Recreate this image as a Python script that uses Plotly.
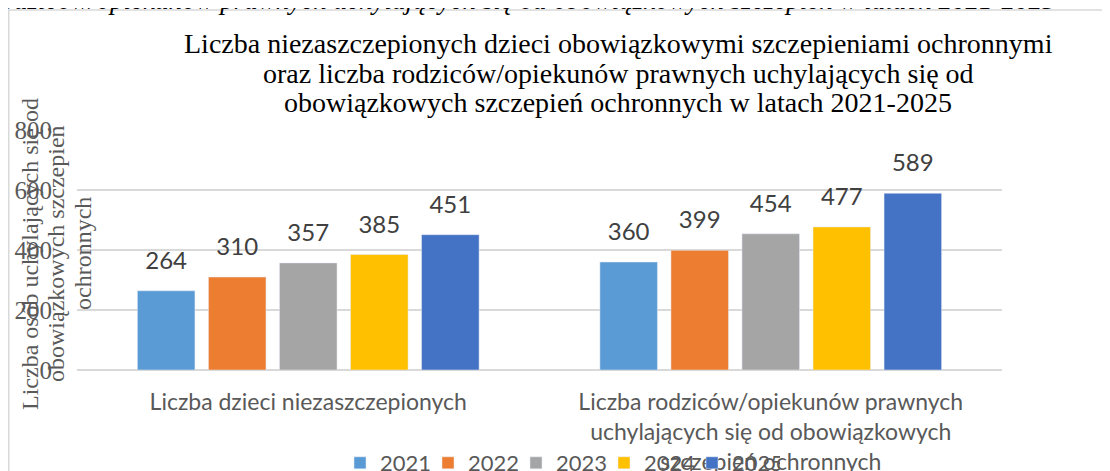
import plotly.graph_objects as go

categories = ["Liczba dzieci niezaszczepionych",
              "Liczba rodziców/opiekunów prawnych<br>uchylających się od obowiązkowych<br>szczepień ochronnych"]
years = ["2021", "2022", "2023", "2024", "2025"]
values = {
    "2021": [264, 360],
    "2022": [310, 399],
    "2023": [357, 454],
    "2024": [385, 477],
    "2025": [451, 589],
}
colors = ["#5B9BD5", "#ED7D31", "#A5A5A5", "#FFC000", "#4472C4"]
y_ticks = [0, 200, 400, 600, 800]

title_lines = ["Liczba niezaszczepionych dzieci obowiązkowymi szczepieniami ochronnymi",
               "oraz liczba rodziców/opiekunów prawnych uchylających się od",
               "obowiązkowych szczepień ochronnych w latach 2021-2025"]
y_title_lines = ["Liczba osób uchylających się od", "obowiązkowych szczepień", "ochronnych"]
top_caption = ("rodziców/opiekunów prawnych uchylających się od obowiązkowych "
               "szczepień w latach 2021-2025")

SERIF = "Liberation Serif, Times New Roman, serif"
SANS = "Lato, Carlito, sans-serif"
GRID = "#d9d9d9"

# page offset (body margin) -> figure pixel coords
OFF = 8
W, H = 1110, 471
L, T = 77 - OFF, 130 - OFF
R = W - (1002 - OFF)
B = H - (370 - OFF)
pw = W - L - R
ph = H - T - B


def px_x(px):  # page px -> paper x
    return (px - OFF - L) / pw


def px_y(py):  # page px -> paper y
    return (H - B - (py - OFF)) / ph


fig = go.Figure()
for yr, col in zip(years, colors):
    fig.add_trace(go.Bar(
        x=categories, y=values[yr], name=yr, marker_color=col,
        offsetgroup=yr, hoverinfo="skip"))
for yr in years:
    fig.add_trace(go.Scatter(
        x=categories, y=values[yr], mode="markers+text", text=[str(v) for v in values[yr]],
        textposition="top center", textfont=dict(family=SANS, size=24, color="#404040"),
        marker=dict(size=24, opacity=0), offsetgroup=yr, showlegend=False,
        hoverinfo="skip", cliponaxis=False))

annotations = []
for line, cy in zip(title_lines, [43.5, 73.5, 102.5]):
    annotations.append(dict(text=line, xref="paper", yref="paper", x=px_x(618), y=px_y(cy),
                            xanchor="center", yanchor="middle", showarrow=False,
                            font=dict(family=SERIF, size=28, color="#000000")))
for line, cx in zip(y_title_lines, [30, 56, 83]):
    annotations.append(dict(text=line, textangle=-90, xref="paper", yref="paper",
                            x=px_x(cx), y=px_y(254), xanchor="center", yanchor="middle",
                            showarrow=False, font=dict(family=SERIF, size=24, color="#595959")))
annotations.append(dict(text="<i>" + top_caption + "</i>", xref="paper", yref="paper",
                        x=px_x(1058), y=px_y(0), xanchor="right", yanchor="middle",
                        showarrow=False, font=dict(family=SERIF, size=27, color="#000000")))

fig.update_layout(
    width=W, height=H,
    margin=dict(l=L, r=R, t=T, b=B, autoexpand=False),
    paper_bgcolor="white", plot_bgcolor="white",
    barmode="group", bargap=0.232, bargroupgap=0.19,
    scattermode="group", scattergap=0.232,
    xaxis=dict(type="category", showgrid=False, showline=False, ticks="",
               tickfont=dict(family=SANS, size=23, color="#595959"),
               ticklabelstandoff=16),
    yaxis=dict(range=[0, 800], tickvals=y_ticks, showgrid=True, gridcolor=GRID, gridwidth=1.5,
               zeroline=True, zerolinecolor=GRID, zerolinewidth=1.5, showline=False, ticks="",
               tickfont=dict(family=SERIF, size=25, color="#595959"),
               ticklabelstandoff=24),
    legend=dict(orientation="h", xref="container", yref="container",
                x=(340 - OFF) / W, xanchor="left", y=1 - (463 - OFF) / H, yanchor="middle",
                font=dict(family=SANS, size=22, color="#595959"),
                itemwidth=30, traceorder="normal",
                entrywidth=43, entrywidthmode="pixels", bgcolor="rgba(0,0,0,0)"),
    showlegend=True,
    annotations=annotations,
    shapes=[
        dict(type="rect", xref="paper", yref="paper",
             x0=px_x(8.75), x1=px_x(1125), y0=px_y(500), y1=px_y(10),
             line=dict(color=GRID, width=1.5), fillcolor="rgba(0,0,0,0)", layer="below"),
    ],
)

fig.write_html("out.html")
